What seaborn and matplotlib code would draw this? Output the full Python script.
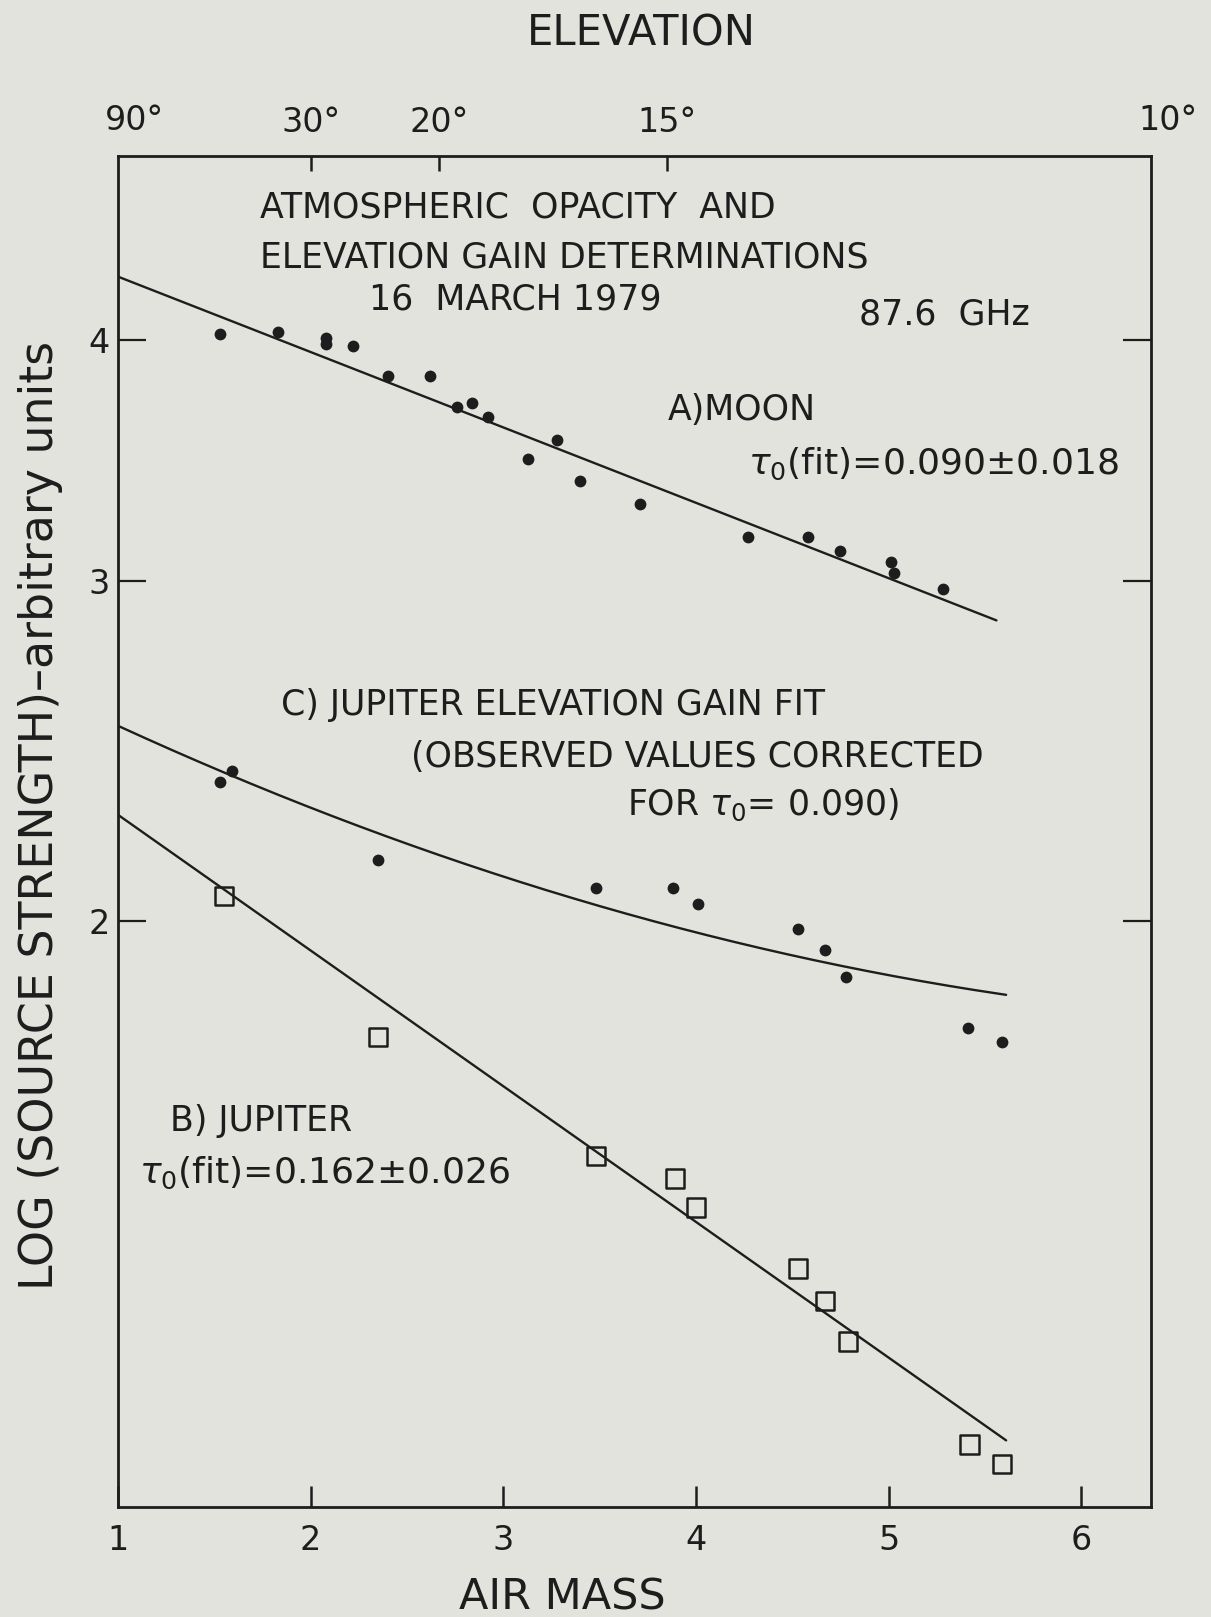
import numpy as np
import pandas as pd
import matplotlib
matplotlib.use("Agg")
import matplotlib.pyplot as plt
from matplotlib.ticker import FixedLocator, NullLocator, FixedFormatter
import seaborn as sns

# ---- measurements -------------------------------------------------------
# A) Moon: air mass vs source strength
moon_airmass = [1.53, 1.83, 2.08, 2.08, 2.22, 2.40, 2.62, 2.76, 2.84, 2.92,
                3.13, 3.28, 3.40, 3.71, 4.27, 4.58, 4.75, 5.01, 5.03, 5.28]
moon_strength = [4.03, 4.04, 4.01, 3.98, 3.97, 3.83, 3.83, 3.69, 3.71, 3.65,
                 3.47, 3.55, 3.38, 3.29, 3.16, 3.16, 3.11, 3.07, 3.03, 2.97]

# B) Jupiter, observed
jup_airmass = [1.55, 2.35, 3.48, 3.89, 4.00, 4.53, 4.67, 4.79, 5.42, 5.59]
jup_strength = [2.06, 1.74, 1.51, 1.47, 1.42, 1.32, 1.27, 1.21, 1.07, 1.045]

# C) Jupiter, corrected for tau0 = 0.090
jupc_airmass = [1.53, 1.59, 2.35, 3.48, 3.88, 4.01, 4.53, 4.67, 4.78, 5.41, 5.59]
jupc_strength = [2.36, 2.39, 2.15, 2.08, 2.08, 2.04, 1.98, 1.93, 1.87, 1.76, 1.73]

# fitted opacity models  S = amp * exp(-tau * airmass)
moon_tau, moon_amp, moon_span = 0.090, 4.72, (1.0, 5.56)
jup_tau, jup_amp, jup_span = 0.162, 2.668, (1.0, 5.61)
# elevation gain fit: log10 S as a quadratic in air mass
gain_coeffs = [0.00338, -0.0526, 0.4512]
gain_span = (1.0, 5.61)

# axis labelling
airmass_ticks = [1, 2, 3, 4, 5, 6]
strength_ticks = [2, 3, 4]
elev_labels = ["30°", "20°", "15°"]
elev_airmass = [2.0, 2.667, 3.85]
elev_corner_labels = ["90°", "10°"]

# ---- style --------------------------------------------------------------
INK = "#1d1d1d"
PAPER = "#e2e3dc"
sns.set_style("ticks")
plt.rcParams["font.family"] = ["DejaVu Sans"]
plt.rcParams["mathtext.fontset"] = "dejavusans"

W, H = 1211, 1617
fig = plt.figure(figsize=(W / 100, H / 100), dpi=100)
fig.patch.set_facecolor(PAPER)
L, R, T, B = 118, 1151, 155.5, 1507
ax = fig.add_axes([L / W, 1 - B / H, (R - L) / W, (B - T) / H])
ax.set_facecolor(PAPER)
ax.set_yscale("log")
ax.set_xlim(1.0, 6.362)
ax.set_ylim(0.993, 4.985)

# ---- fit lines ----------------------------------------------------------
xm = np.linspace(*moon_span, 200)
sns.lineplot(x=xm, y=moon_amp * np.exp(-moon_tau * xm), ax=ax, color=INK, lw=1.7)
xj = np.linspace(*jup_span, 200)
sns.lineplot(x=xj, y=jup_amp * np.exp(-jup_tau * xj), ax=ax, color=INK, lw=1.7)
xg = np.linspace(*gain_span, 200)
sns.lineplot(x=xg, y=10 ** np.polyval(gain_coeffs, xg), ax=ax, color=INK, lw=1.7)

# ---- points -------------------------------------------------------------
moon_df = pd.DataFrame({"air_mass": moon_airmass, "strength": moon_strength})
jup_df = pd.DataFrame({"air_mass": jup_airmass, "strength": jup_strength})
jupc_df = pd.DataFrame({"air_mass": jupc_airmass, "strength": jupc_strength})
sns.scatterplot(data=moon_df, x="air_mass", y="strength", ax=ax, marker="o",
                s=72, color=INK, linewidth=0, zorder=3)
sns.scatterplot(data=jupc_df, x="air_mass", y="strength", ax=ax, marker="o",
                s=72, color=INK, linewidth=0, zorder=3)
sns.scatterplot(data=jup_df, x="air_mass", y="strength", ax=ax, marker="s",
                s=175, facecolor="none", edgecolor=INK, linewidth=1.8, zorder=3)

# ---- axes ---------------------------------------------------------------
for sp in ax.spines.values():
    sp.set_visible(True)
    sp.set_linewidth(2.0)
    sp.set_color(INK)

ax.set_xlabel("")
ax.set_ylabel("")
ax.xaxis.set_major_locator(FixedLocator(airmass_ticks))
ax.xaxis.set_major_formatter(FixedFormatter([str(t) for t in airmass_ticks]))
ax.yaxis.set_major_locator(FixedLocator(strength_ticks))
ax.yaxis.set_major_formatter(FixedFormatter([str(t) for t in strength_ticks]))
ax.yaxis.set_minor_locator(NullLocator())
ax.xaxis.set_minor_locator(NullLocator())
ax.tick_params(axis="x", direction="in", length=15, width=1.8, colors=INK,
               labelsize=24, pad=12, top=False)
ax.tick_params(axis="y", direction="in", length=20, width=1.6, colors=INK,
               labelsize=24, pad=6, right=True, labelright=False)

top = ax.twiny()
top.set_xlim(ax.get_xlim())
top.xaxis.set_major_locator(FixedLocator(elev_airmass))
top.xaxis.set_major_formatter(FixedFormatter(elev_labels))
top.xaxis.set_minor_locator(NullLocator())
top.tick_params(axis="x", direction="in", length=11, width=1.8, colors=INK,
                labelsize=24, pad=12)
for sp in top.spines.values():
    sp.set_visible(False)


def put(x, y, s, size=25, ha="left", **kw):
    fig.text(x / W, 1 - y / H, s, fontsize=size, ha=ha, va="center",
             color=INK, **kw)


# elevation labels sitting just past the frame corners
put(134, 121, elev_corner_labels[0], size=24, ha="center")
put(1168, 121, elev_corner_labels[1], size=24, ha="center")

put(641, 34, "ELEVATION", size=30, ha="center")
put(562, 1597, "AIR MASS", size=31, ha="center")
put(41, 815, "LOG (SOURCE STRENGTH)–arbitrary units", size=33, ha="center",
    rotation=90)

put(260, 208, "ATMOSPHERIC  OPACITY  AND")
put(260, 258, "ELEVATION GAIN DETERMINATIONS")
put(369, 300, "16  MARCH 1979")
put(859, 314, "87.6  GHz")
put(668, 410, "A)MOON")
put(748, 464, r"$\tau_{0}$(fit)=0.090$\pm$0.018", size=26)
put(281, 705, "C) JUPITER ELEVATION GAIN FIT")
put(411, 757, "(OBSERVED VALUES CORRECTED")
put(627, 805, r"FOR $\tau_{0}$= 0.090)")
put(170, 1121, "B) JUPITER")
put(139, 1173, r"$\tau_{0}$(fit)=0.162$\pm$0.026", size=26)

fig.savefig("out.png", dpi=100, facecolor=PAPER)
